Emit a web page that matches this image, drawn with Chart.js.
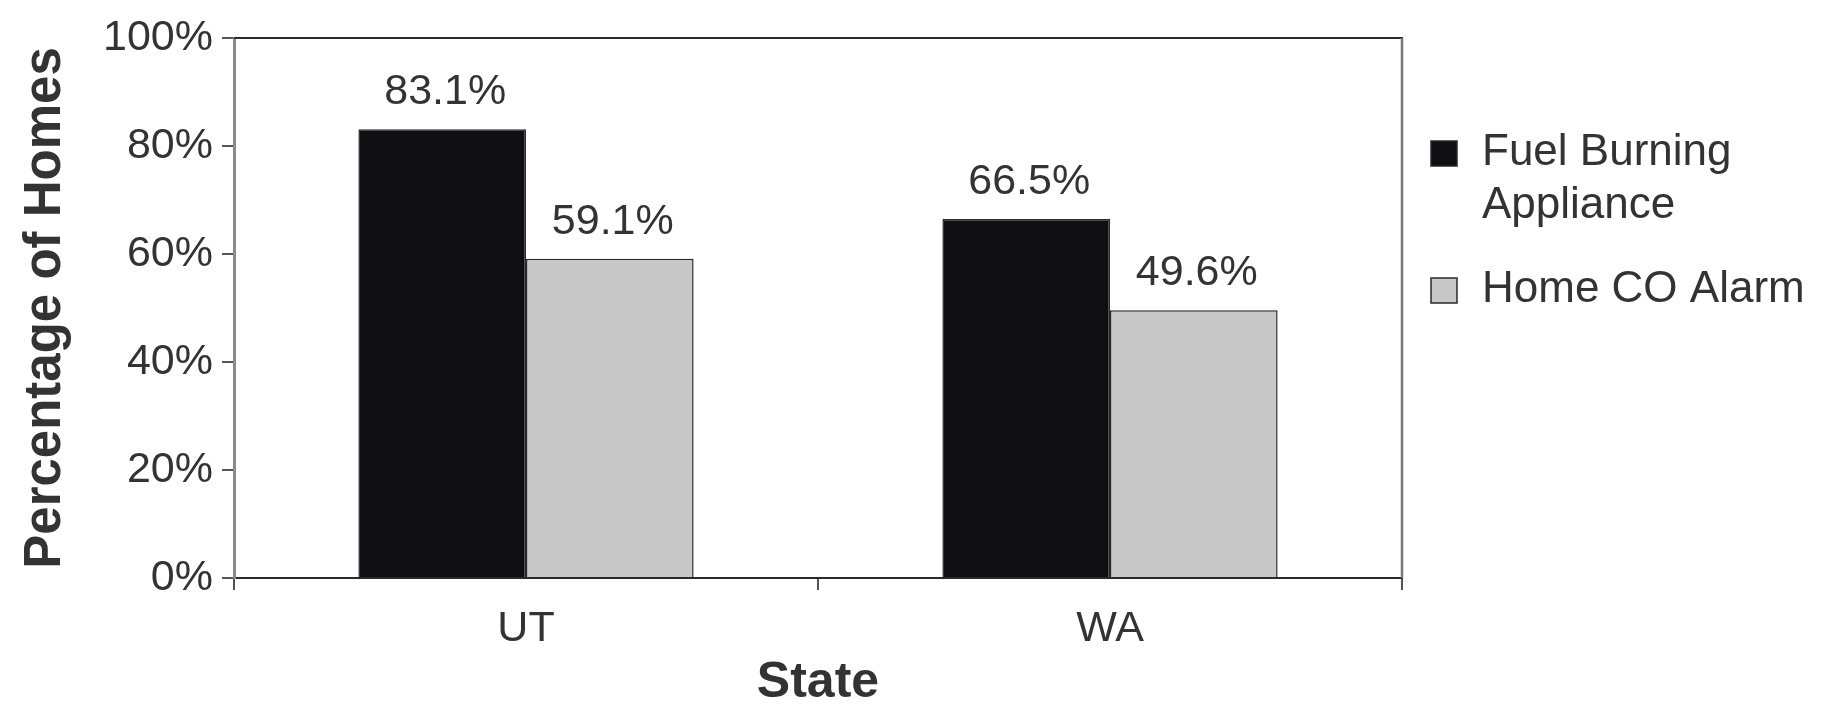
<!DOCTYPE html>
<html>
<head>
<meta charset="utf-8">
<script src="https://cdn.jsdelivr.net/npm/chart.js@4.4.1/dist/chart.umd.min.js"></script>
<style>
  body { margin: 0; background: #ffffff; }
  #wrap { width: 1831px; height: 708px; }
</style>
</head>
<body>
<div id="wrap"><canvas id="myChart" width="1831" height="708"></canvas></div>
<script>
// data
var states = ['UT', 'WA'];
var fuelBurning = [83.1, 66.5];
var coAlarm = [59.1, 49.6];
var fuelLabel = ['Fuel Burning', 'Appliance'];
var alarmLabel = ['Home CO Alarm'];
var yTicks = [0, 20, 40, 60, 80, 100];

var textColor = '#333333';
var fontName = '"Liberation Sans", Arial, Helvetica, sans-serif';

// value labels over each bar
const barLabels = {
    id: 'barLabels',
    afterDatasetsDraw(chart) {
        const ctx = chart.ctx;
        ctx.save();
        ctx.font = '43px ' + fontName;
        ctx.fillStyle = textColor;
        ctx.textAlign = 'center';
        ctx.textBaseline = 'alphabetic';
        chart.data.datasets.forEach((ds, i) => {
            chart.getDatasetMeta(i).data.forEach((bar, j) => {
                ctx.fillText(ds.data[j].toFixed(1) + '%', bar.x + 3, bar.y - 25);
            });
        });
        ctx.restore();
    }
};

// top and right frame lines
const frame = {
    id: 'frame',
    afterDraw(chart) {
        const a = chart.chartArea;
        const ctx = chart.ctx;
        ctx.save();
        ctx.strokeStyle = '#2a2a2a';
        ctx.lineWidth = 2;
        ctx.beginPath();
        ctx.moveTo(a.left, a.top);
        ctx.lineTo(a.right + 1, a.top);
        ctx.stroke();
        ctx.strokeStyle = '#7a7a7a';
        ctx.lineWidth = 2.5;
        ctx.beginPath();
        ctx.moveTo(a.right, a.top);
        ctx.lineTo(a.right, a.bottom);
        ctx.stroke();
        ctx.restore();
    }
};

// legend on the right, multi-line labels
const sideLegend = {
    id: 'sideLegend',
    afterDraw(chart) {
        const ctx = chart.ctx;
        const a = chart.chartArea;
        const boxX = a.right + 29;
        const textX = a.right + 80;
        const lineH = 53;
        let baseY = 165;
        ctx.save();
        ctx.font = '44px ' + fontName;
        ctx.textAlign = 'left';
        ctx.textBaseline = 'alphabetic';
        chart.data.datasets.forEach((ds) => {
            const lines = Array.isArray(ds.label) ? ds.label : [ds.label];
            ctx.fillStyle = ds.backgroundColor;
            ctx.fillRect(boxX, baseY - 24, 26, 25);
            ctx.strokeStyle = '#2a2a2a';
            ctx.lineWidth = 1.5;
            ctx.strokeRect(boxX, baseY - 24, 26, 25);
            ctx.fillStyle = textColor;
            lines.forEach((t, k) => {
                ctx.fillText(t, textX, baseY + k * lineH);
            });
            baseY += (lines.length - 1) * lineH + 84;
        });
        ctx.restore();
    }
};

var ctx = document.getElementById('myChart').getContext('2d');
var chart = new Chart(ctx, {
    type: 'bar',
    data: {
        labels: states,
        datasets: [{
            label: fuelLabel,
            data: fuelBurning,
            backgroundColor: '#0f0e12',
            borderColor: '#2a2a2a',
            borderWidth: 1.5
        }, {
            label: alarmLabel,
            data: coAlarm,
            backgroundColor: '#c8c8c8',
            borderColor: '#2a2a2a',
            borderWidth: 1.5
        }]
    },
    options: {
        responsive: false,
        animation: false,
        devicePixelRatio: 1,
        layout: { padding: { top: 38, right: 429, left: 0, bottom: 0 } },
        datasets: { bar: { barPercentage: 1, categoryPercentage: 0.574 } },
        plugins: {
            legend: { display: false },
            tooltip: { enabled: false }
        },
        scales: {
            x: {
                grid: {
                    display: true,
                    offset: true,
                    drawOnChartArea: false,
                    drawTicks: true,
                    tickLength: 12,
                    color: '#555555',
                    lineWidth: 2
                },
                border: { display: true, color: '#2a2a2a', width: 2 },
                ticks: {
                    color: textColor,
                    font: { family: fontName, size: 43 },
                    padding: 13
                },
                title: {
                    display: true,
                    text: 'State',
                    color: textColor,
                    font: { family: fontName, size: 50, weight: 'bold', lineHeight: 1 },
                    padding: { top: 2, bottom: 0 }
                },
                afterFit(scale) { scale.height = 130; }
            },
            y: {
                min: 0,
                max: 100,
                afterBuildTicks(scale) {
                    scale.ticks = yTicks.map(v => ({ value: v }));
                },
                grid: {
                    display: true,
                    drawOnChartArea: false,
                    drawTicks: true,
                    tickLength: 12,
                    color: '#555555',
                    lineWidth: 2
                },
                border: { display: true, color: '#8a8a8a', width: 3 },
                ticks: {
                    color: textColor,
                    font: { family: fontName, size: 43 },
                    padding: 9,
                    callback: (v) => v + '%'
                },
                title: {
                    display: true,
                    text: 'Percentage of Homes',
                    color: textColor,
                    font: { family: fontName, size: 51, weight: 'bold', lineHeight: 1.2 },
                    padding: { top: 15, bottom: 0 }
                },
                afterFit(scale) { scale.width = 234; }
            }
        }
    },
    plugins: [barLabels, frame, sideLegend]
});
</script>
</body>
</html>
